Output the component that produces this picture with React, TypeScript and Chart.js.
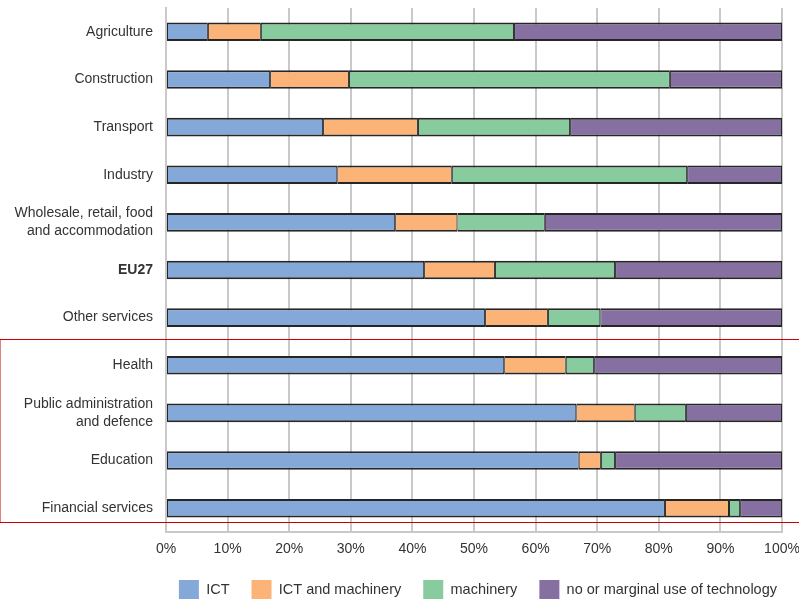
import React, { useEffect, useRef } from "react";
import { Chart, registerables } from "chart.js";

Chart.register(...registerables);

// Sectors, top to bottom
const sectors: (string | string[])[] = [
  "Agriculture",
  "Construction",
  "Transport",
  "Industry",
  ["Wholesale, retail, food", "and accommodation"],
  "EU27",
  "Other services",
  "Health",
  ["Public administration", "and defence"],
  "Education",
  "Financial services",
];

// Share of workers (%) by technology used
const ict = [6.8, 16.9, 25.5, 27.8, 37.2, 41.9, 51.8, 54.9, 66.6, 67.0, 81.0];
const ictAndMachinery = [8.6, 12.8, 15.4, 18.6, 10.1, 11.5, 10.2, 10.0, 9.5, 3.6, 10.4];
const machinery = [41.1, 52.1, 24.7, 38.2, 14.2, 19.5, 8.5, 4.6, 8.3, 2.3, 1.8];
const noTechnology = [43.5, 18.2, 34.4, 15.4, 38.5, 27.1, 29.5, 30.5, 15.6, 27.1, 6.8];

const seriesNames = ["ICT", "ICT and machinery", "machinery", "no or marginal use of technology"];
const seriesColors = ["#84a8d8", "#fbb378", "#87cb9e", "#8670a1"];

const xTicks = [0, 10, 20, 30, 40, 50, 60, 70, 80, 90, 100];

// Group framed in red (Health .. Financial services)
const framedFirst = 7;
const framedLast = 10;

const FONT = "'Liberation Sans', Arial, Helvetica, sans-serif";
const TEXT = "#333333";
const GRID = "#c9c9c9";

const redFrame = {
  id: "redFrame",
  afterDraw(chart: any) {
    const y = chart.scales.y;
    const ctx = chart.ctx;
    const top = Math.round(y.getPixelForValue(framedFirst) - 26) + 0.5;
    const bottom = Math.round(y.getPixelForValue(framedLast) + 14) + 0.5;
    ctx.save();
    ctx.strokeStyle = "#cc0000";
    ctx.lineWidth = 1;
    ctx.beginPath();
    ctx.moveTo(chart.width + 2, top);
    ctx.lineTo(0, top);
    ctx.lineTo(0, bottom);
    ctx.lineTo(chart.width + 2, bottom);
    ctx.stroke();
    ctx.restore();
  },
};

export default function App() {
  const canvasRef = useRef<HTMLCanvasElement | null>(null);

  useEffect(() => {
    const canvas = canvasRef.current;
    if (!canvas) return;
    const values = [ict, ictAndMachinery, machinery, noTechnology];
    const chart = new Chart(canvas, {
      type: "bar",
      data: {
        labels: sectors,
        datasets: values.map((data, i) => ({
          label: seriesNames[i],
          data,
          backgroundColor: seriesColors[i],
          borderColor: "#262626",
          borderWidth: { top: 2, bottom: 2, left: 1, right: 1 },
          borderSkipped: false,
          barPercentage: 0.39,
          categoryPercentage: 1,
        })),
      },
      options: {
        indexAxis: "y",
        responsive: false,
        animation: false,
        devicePixelRatio: 1,
        layout: { padding: { top: 8, left: 0, right: 0, bottom: 0 } },
        scales: {
          x: {
            stacked: true,
            min: 0,
            max: 100,
            afterBuildTicks(scale: any) {
              scale.ticks = xTicks.map((v) => ({ value: v }));
            },
            afterFit(scale: any) {
              scale.height = 26;
              scale.paddingLeft = 0;
              scale.paddingRight = 17;
            },
            ticks: {
              padding: 9,
              color: TEXT,
              font: { family: FONT, size: 14 },
              callback: (v: any) => v + "%",
              maxRotation: 0,
            },
            grid: { color: GRID, lineWidth: 2, drawTicks: false },
            border: { display: true, color: GRID, width: 2 },
          },
          y: {
            stacked: true,
            afterFit(scale: any) {
              scale.width = 166;
              scale.paddingTop = 0;
              scale.paddingBottom = 0;
            },
            ticks: {
              padding: 13,
              color: TEXT,
              font: (ctx: any) => ({
                family: FONT,
                size: 14,
                lineHeight: 1.3,
                weight: sectors[ctx.index] === "EU27" ? "bold" : "normal",
              }),
            },
            grid: { display: false, drawTicks: false },
            border: { display: true, color: GRID, width: 2 },
          },
        },
        plugins: {
          tooltip: { enabled: false },
          legend: {
            position: "bottom",
            align: "end",
            labels: {
              boxWidth: 20,
              boxHeight: 20,
              padding: 22,
              color: TEXT,
              font: { family: FONT, size: 14.5 },
              generateLabels(c: any) {
                const items = Chart.defaults.plugins.legend.labels.generateLabels(c);
                return items.map((it: any) => ({ ...it, lineWidth: 0, strokeStyle: "rgba(0,0,0,0)" }));
              },
            },
          },
        },
      },
      plugins: [redFrame],
    } as any);
    return () => chart.destroy();
  }, []);

  return (
    <div
      style={{
        position: "fixed",
        top: 0,
        left: 0,
        width: 799,
        height: 599,
        overflow: "hidden",
        background: "#ffffff",
      }}
    >
      <canvas ref={canvasRef} width={799} height={610} style={{ display: "block", width: 799, height: 610 }} />
    </div>
  );
}
